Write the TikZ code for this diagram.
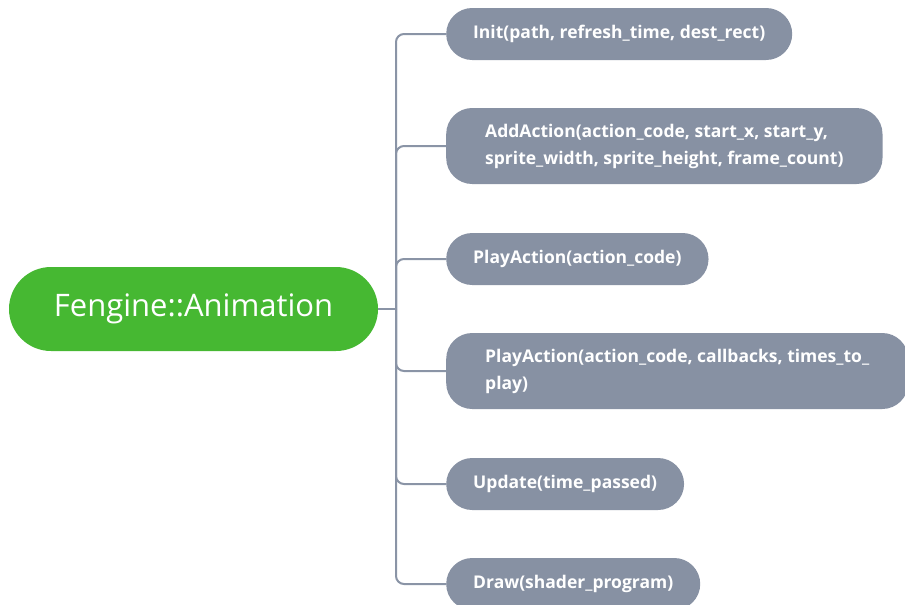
\documentclass[tikz,border=0pt]{standalone}
\usepackage{fontspec}
\setmainfont{Open Sans}
\definecolor{rootgreen}{HTML}{46B832}
\definecolor{leafgray}{HTML}{8791A3}
\definecolor{wiregray}{HTML}{8A94A6}
\begin{document}
\begin{tikzpicture}[x=1pt,y=-1pt,
  rootbox/.style={fill=rootgreen, text=white, rounded corners=42pt,
    minimum width=369pt, minimum height=84pt, inner sep=0pt,
    font=\fontsize{31}{36}\selectfont},
  leaf/.style={fill=leafgray, text=white, rounded corners=26pt, anchor=west,
    minimum height=52pt, inner xsep=27pt, inner ysep=0pt, align=left,
    font=\bfseries\fontsize{17.5}{27}\selectfont},
  leaftwo/.style={leaf, minimum height=76pt, inner xsep=39pt},
  wire/.style={draw=wiregray, line width=2pt, rounded corners=8pt}]
\useasboundingbox (0,0) rectangle (905,605);
\clip (0,0) rectangle (905,605);

\node[rootbox] (root) at (193.5,309) {Fengine::Animation};

\node[leaf]     (init)  at (446,34)  {Init(path, refresh\_time, dest\_rect)};
\node[leaftwo]  (add)   at (446,146) {AddAction(action\_code, start\_x, start\_y,\\sprite\_width, sprite\_height, frame\_count)};
\node[leaf]     (play)  at (446,259) {PlayAction(action\_code)};
\node[leaftwo]  (playb) at (446,371) {PlayAction(action\_code, callbacks, times\_to\_\\play)};
\node[leaf]     (upd)   at (446,484) {Update(time\_passed)};
\node[leaf]     (drw)   at (446,584) {Draw(shader\_program)};

\coordinate (hub) at (396,309);
\draw[wire] (root.east) -- (hub);
\foreach \c in {init,add,play,playb,upd,drw}
  \draw[wire] (hub) |- (\c.west);
\end{tikzpicture}
\end{document}
